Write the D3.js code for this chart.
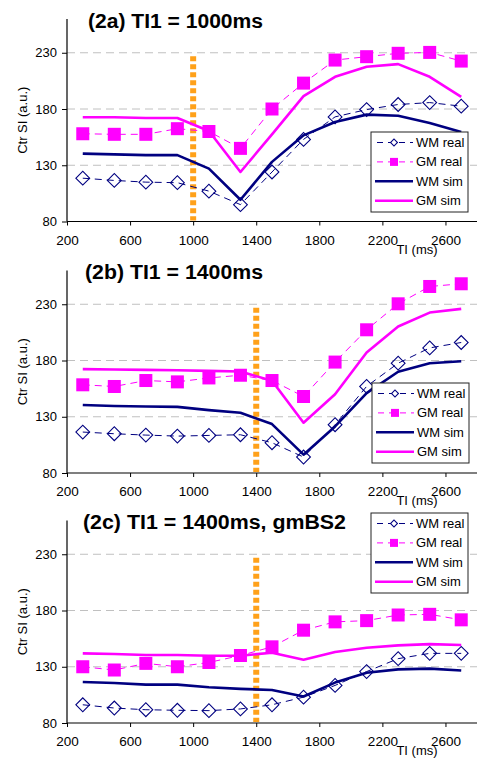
<!DOCTYPE html>
<html>
<head>
<meta charset="utf-8">
<script src="https://cdn.jsdelivr.net/npm/d3@7"></script>
<style>
  html, body { margin: 0; padding: 0; background: #fff; }
  svg { display: block; font-family: "Liberation Sans", Arial, sans-serif; }
</style>
</head>
<body>
<svg id="chart" width="484" height="758"></svg>
<script>
// ---------- data ----------
const TI = [300, 500, 700, 900, 1100, 1300, 1500, 1700, 1900, 2100, 2300, 2500, 2700];

const titles = ["(2a) TI1 = 1000ms", "(2b) TI1 = 1400ms", "(2c) TI1 = 1400ms, gmBS2"];
const TI1 = [1000, 1400, 1400];

const wmRealA = [118.5, 116.5, 115, 114.5, 107, 95, 124, 153, 173, 179.5, 184, 185.7, 182.5];
const gmRealA = [158, 157.5, 157.5, 162.5, 160, 145, 180, 203, 223.5, 226.5, 229.5, 230.3, 222.6];
const wmSimA  = [140.3, 139.7, 139, 139, 127, 99.3, 133, 156.6, 168.5, 175, 174, 167.6, 159.6];
const gmSimA  = [172.7, 172.7, 172, 172, 160.5, 124, 157.5, 191.4, 208.6, 217.5, 219.9, 208.6, 190.8];

const wmRealB = [116.4, 114.9, 113.7, 112.8, 113.4, 114, 106.9, 94.2, 122.9, 157, 177.6, 191.2, 196];
const gmRealB = [158.4, 156.9, 162.2, 161, 164.5, 166.9, 162.2, 148, 178.6, 207.3, 230.4, 245.8, 248.2];
const wmSimB  = [140.4, 139.5, 139.1, 138.8, 135.9, 133.5, 123.5, 96.3, 121.4, 151, 170, 177.6, 179.4];
const gmSimB  = [172.3, 172, 171.7, 171.4, 170.8, 170.2, 162, 124.7, 150, 187.1, 210.2, 222.6, 225.9];

const wmRealC = [96.2, 93.3, 91.8, 91.3, 91, 92.5, 96.2, 103, 113.4, 125.7, 137.2, 141.9, 141.9];
const gmRealC = [130, 127.1, 133, 130, 133.8, 140, 147.7, 162.5, 169.9, 171, 176, 176.6, 171.7];
const wmSimC  = [116.5, 115.6, 114.1, 114.1, 111.8, 110.3, 109.4, 103.5, 115.9, 124.7, 127.7, 128.3, 126.6];
const gmSimC  = [141.9, 141.3, 140.4, 140.4, 139.8, 139.8, 142.5, 136.3, 143.1, 146.9, 149, 150.1, 149.3];

const seriesNames = ["WM real", "GM real", "WM sim", "GM sim"];
const yTicks = [80, 130, 180, 230];
const xTicks = [200, 600, 1000, 1400, 1800, 2200, 2600];
const xDomain = [200, 2800];
const yDomain = [80, 260];
const ti1Range = [81, 227];

const panelsData = [
  [wmRealA, gmRealA, wmSimA, gmSimA],
  [wmRealB, gmRealB, wmSimB, gmSimB],
  [wmRealC, gmRealC, wmSimC, gmSimC]
];

// ---------- layout ----------
const NAVY = "#000080", MAG = "#FF00FF", ORANGE = "#FFA11A";
const left = 67, right = 477;
const panelTops = [19, 270.5, 520.5];
const panelH = 202.5;
const titleX = [88, 85, 83];
const titleLen = [175, 178, 263];
const legendPos = [[371, 132], [372, 383], [371, 513]];

const svg = d3.select("#chart");

function drawPanel(p) {
  const top = panelTops[p], bottom = top + panelH;
  const [wmReal, gmReal, wmSim, gmSim] = panelsData[p];
  const x = d3.scaleLinear().domain(xDomain).range([left, right]);
  const y = d3.scaleLinear().domain(yDomain).range([bottom, top]);
  const g = svg.append("g");

  // gridlines
  g.selectAll(".grid").data(yTicks.filter(t => t !== yDomain[0])).join("line")
    .attr("x1", left).attr("x2", right)
    .attr("y1", d => y(d)).attr("y2", d => y(d))
    .attr("stroke", "#c0c0c0").attr("stroke-width", 1)
    .attr("stroke-dasharray", "8,5");

  // axes
  const yAxis = d3.axisLeft(y).tickValues(yTicks).tickSize(5).tickPadding(5).tickFormat(d3.format("d"));
  const xAxis = d3.axisBottom(x).tickValues(xTicks).tickSize(4).tickPadding(9.5).tickFormat(d3.format("d"));
  const ya = g.append("g").attr("transform", `translate(${left},0)`).call(yAxis);
  const xa = g.append("g").attr("transform", `translate(0,${bottom})`).call(xAxis);
  [ya, xa].forEach(a => {
    a.select(".domain").attr("stroke", "#000").attr("stroke-width", 1.2);
    a.selectAll(".tick line").attr("stroke", "#000");
    a.selectAll(".tick text").attr("fill", "#000")
      .attr("font-family", "Liberation Sans, Arial, sans-serif");
  });
  ya.selectAll(".tick text").attr("font-size", 13);
  xa.selectAll(".tick text").attr("font-size", 13.5);
  ya.select(".domain").attr("d", `M0,${top}V${bottom}`);
  xa.select(".domain").attr("d", `M${left},0H${right}`);

  // TI1 marker (orange dotted)
  g.append("line")
    .attr("x1", x(TI1[p])).attr("x2", x(TI1[p]))
    .attr("y1", y(ti1Range[1])).attr("y2", y(ti1Range[0]))
    .attr("stroke", ORANGE).attr("stroke-width", 6)
    .attr("stroke-dasharray", "5,3");

  const line = d3.line().x((d, i) => x(TI[i])).y(d => y(d));

  // real series (dashed + markers)
  g.append("path").datum(wmReal).attr("d", line)
    .attr("fill", "none").attr("stroke", NAVY).attr("stroke-width", 1)
    .attr("stroke-dasharray", "7,5");
  g.selectAll(".wmm").data(wmReal).join("path")
    .attr("d", d3.symbol(d3.symbolSquare, 95)())
    .attr("transform", (d, i) => `translate(${x(TI[i])},${y(d)}) rotate(45)`)
    .attr("fill", "none").attr("stroke", NAVY).attr("stroke-width", 1.1);

  g.append("path").datum(gmReal).attr("d", line)
    .attr("fill", "none").attr("stroke", MAG).attr("stroke-width", 1)
    .attr("stroke-dasharray", "7,5");
  g.selectAll(".gmm").data(gmReal).join("rect")
    .attr("x", (d, i) => x(TI[i]) - 6.5).attr("y", d => y(d) - 6.5)
    .attr("width", 13).attr("height", 13).attr("fill", MAG);

  // simulated series
  g.append("path").datum(wmSim).attr("d", line)
    .attr("fill", "none").attr("stroke", NAVY).attr("stroke-width", 2.6)
    .attr("stroke-linejoin", "round");
  g.append("path").datum(gmSim).attr("d", line)
    .attr("fill", "none").attr("stroke", MAG).attr("stroke-width", 2.6)
    .attr("stroke-linejoin", "round");

  // title
  g.append("text").attr("x", titleX[p]).attr("y", top + 8.5)
    .attr("font-size", 19.5).attr("font-weight", "bold").attr("fill", "#000")
    .attr("textLength", titleLen[p]).attr("lengthAdjust", "spacingAndGlyphs")
    .text(titles[p]);

  // axis labels
  g.append("text")
    .attr("transform", `translate(26.5,${(top + bottom) / 2}) rotate(-90)`)
    .attr("text-anchor", "middle").attr("font-size", 13).attr("fill", "#000")
    .text("Ctr SI (a.u.)");
  g.append("text").attr("x", 417).attr("y", bottom + 32)
    .attr("text-anchor", "middle").attr("font-size", 13).attr("fill", "#000")
    .text("TI (ms)");

  // legend
  const [lx, ly] = legendPos[p];
  const lg = g.append("g").attr("transform", `translate(${lx},${ly})`);
  lg.append("rect").attr("width", 97).attr("height", 80)
    .attr("fill", "#fff").attr("stroke", "#222").attr("stroke-width", 1);
  const styles = [
    {c: NAVY, w: 1, dash: "6,5", m: "diamond"},
    {c: MAG, w: 1, dash: "6,5", m: "square"},
    {c: NAVY, w: 2.6, dash: null, m: null},
    {c: MAG, w: 2.6, dash: null, m: null}
  ];
  seriesNames.forEach((name, i) => {
    const cy = 10.5 + i * 19.4;
    const s = styles[i];
    const l = lg.append("line").attr("x1", 4).attr("x2", 42).attr("y1", cy).attr("y2", cy)
      .attr("stroke", s.c).attr("stroke-width", s.w);
    if (s.dash) l.attr("stroke-dasharray", s.dash).attr("stroke-dashoffset", -2);
    if (s.m === "diamond") {
      lg.append("path").attr("d", d3.symbol(d3.symbolSquare, 24)())
        .attr("transform", `translate(23,${cy}) rotate(45)`)
        .attr("fill", "#fff").attr("stroke", s.c).attr("stroke-width", 1.1);
    } else if (s.m === "square") {
      lg.append("rect").attr("x", 19).attr("y", cy - 4).attr("width", 8).attr("height", 8)
        .attr("fill", s.c);
    }
    lg.append("text").attr("x", 45).attr("y", cy + 4.5)
      .attr("font-size", 13).attr("fill", "#000").text(name);
  });
}

[0, 1, 2].forEach(drawPanel);
</script>
</body>
</html>
